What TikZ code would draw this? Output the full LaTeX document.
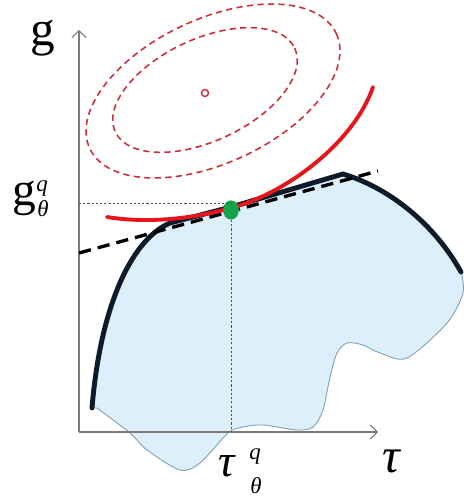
\documentclass[tikz,border=0pt]{standalone}
\usepackage{fontspec}
\setmainfont{Liberation Serif}
\usetikzlibrary{arrows.meta,shapes.geometric}

\definecolor{regionfill}{HTML}{DCEFFB}
\definecolor{regionline}{HTML}{7F9FB8}
\definecolor{frontblue}{HTML}{0D1B2A}
\definecolor{lossred}{HTML}{E8141B}
\definecolor{levelred}{HTML}{C9303C}
\definecolor{optgreen}{HTML}{17A34A}
\definecolor{axisgray}{HTML}{7A7A7A}

\begin{document}
\begin{tikzpicture}[
    x=0.02cm, y=-0.02cm,
    axis/.style={-{Straight Barb[length=4pt,width=8pt]}, axisgray, line width=0.6pt},
    guide/.style={dash pattern=on 1.2pt off 1.2pt, black!70, line width=0.5pt},
    tangent/.style={dash pattern=on 7pt off 4pt, black, line width=1.9pt},
    frontier/.style={frontblue, line width=2.8pt, line cap=round},
    region/.style={fill=regionfill, draw=regionline, line width=0.5pt},
    level/.style={dash pattern=on 3.6pt off 2.4pt, levelred, line width=0.9pt},
    loss/.style={lossred, line width=2.2pt, line cap=round},
    lbl/.style={inner sep=0pt, anchor=base west, font=\fontsize{28}{30}\selectfont},
    scr/.style={inner sep=0pt, anchor=base west, font=\fontsize{13}{14}\selectfont\itshape}
]
    \useasboundingbox (0,0) rectangle (463,499);

    % Points
    \coordinate (O) at (79,432);
    \coordinate (gtop) at (79,30);
    \coordinate (tright) at (378,432);
    \coordinate (gq) at (79,203);
    \coordinate (tanL) at (79,253);
    \coordinate (tanR) at (378,171);

    % Feasible region
    \path[region] (92,408) .. controls (100,310) and (130,240) .. (170,223) -- (231,207) -- (343,174)
        .. controls (390,188) and (435,225) .. (461,272)
        -- plot[smooth] coordinates {(461,272) (463,293) (447,323) (407,358)
            (380,353) (363,345) (347,343) (337,353) (330,377) (323,410) (313,427) (297,430) (263,425) (243,427)
            (228,433) (200,463) (180,470) (147,450) (130,433) (97,408)}
        -- cycle;

    % Axes
    \draw[axis] (O) -- (gtop);
    \draw[axis] (O) -- (tright);

    % Level sets
    \draw[level, rotate around={25:(213,91)}] (213,91) ellipse [x radius=136, y radius=72];
    \draw[level, rotate around={25:(205,90)}] (205,90) ellipse [x radius=99, y radius=51];
    \draw[levelred, line width=0.8pt] (205,93) circle [radius=3.5];

    % Frontier
    \draw[frontier] (92,408) .. controls (100,310) and (130,240) .. (170,223) -- (231,207) -- (343,174)
        .. controls (390,188) and (435,225) .. (461,272);

    % Tangent and touching level curve
    \draw[tangent] (tanL) -- (tanR);
    \draw[loss] (107,217) .. controls (150,224) and (195,218) .. (231,208)
        .. controls (290,192) and (355,140) .. (373,87);

    % Optimum
    \node[ellipse, fill=optgreen, inner sep=0pt, minimum width=9pt, minimum height=11pt] (opt) at (231,210) {};
    \draw[guide] (gq) -- (gq -| opt);
    \draw[guide] (opt) -- (opt |- O);

    % Labels
    \node[lbl] (glabel) at (30,46) {g};
    \node[lbl] (tlabel) at (382,472) {\itshape τ};
    \node[lbl, font=\fontsize{27}{30}\selectfont] (gqlabel) at (12,206) {g};
    \node[scr] (gqsup) at (36,192) {q};
    \node[scr] (gqsub) at (37,217) {θ};
    \node[lbl, font=\fontsize{26}{30}\selectfont\itshape] (tqlabel) at (218,476) {τ};
    \node[scr] (tqsup) at (249,459) {q};
    \node[scr] (tqsub) at (250,493) {θ};
\end{tikzpicture}
\end{document}
